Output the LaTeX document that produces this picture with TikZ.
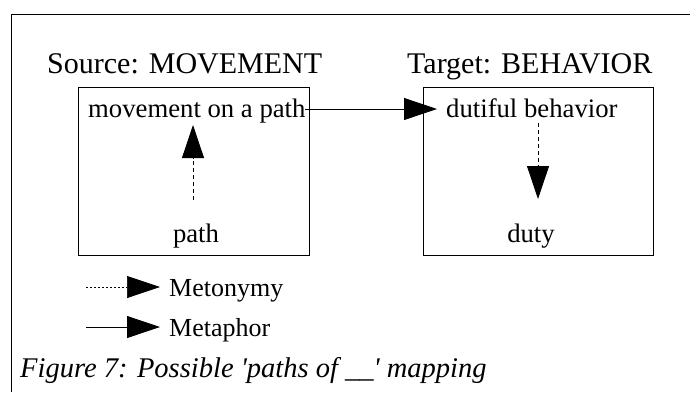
\documentclass[tikz,border=0pt]{standalone}
\usepackage{fontspec}
\setmainfont{Liberation Serif}
\usetikzlibrary{arrows.meta}
\tikzset{
  lbl/.style={inner sep=0pt, font=\fontsize{26.7}{30}\selectfont},
  ttl/.style={inner sep=0pt, font=\fontsize{30}{34}\selectfont},
  box/.style={draw, line width=0.9pt, inner sep=0pt},
  head/.style={-{Triangle[length=33pt,width=22pt]}},
  metaphor/.style={head, line width=0.8pt},
  metonymy/.style={head, line width=0.8pt, dash pattern=on 4pt off 3pt},
  legendmeto/.style={head, line width=0.7pt, dash pattern=on 2pt off 2pt},
}
\begin{document}
\begin{tikzpicture}[x=1pt,y=-1pt]
\useasboundingbox (0,0) rectangle (690,392);
% page frame (top and left rules)
\draw[line width=1pt] (11,392) -- (11,14) -- (690,14);

% titles
\node[ttl, anchor=base west] (srcT) at (47,73) {Source: MOVEMENT};
\node[ttl, anchor=base west] (tgtT) at (407,73) {Target: BEHAVIOR};

% domain boxes
\node[box, minimum width=231pt, minimum height=168pt] (src) at (193.5,171) {};
\node[box, minimum width=230pt, minimum height=168pt] (tgt) at (538,171) {};

% concepts
\node[lbl, anchor=base west] (mov) at (88,117) {movement on a path};
\node[lbl, anchor=base] (path) at (196,242) {path};
\node[lbl, anchor=base west] (dut) at (446,117) {dutiful behavior};
\node[lbl, anchor=base] (duty) at (531,242) {duty};

% connectors
\coordinate (m0) at (305,109);
\coordinate (m1) at (437,109);
\draw[metaphor] (m0) -- (m1);
\coordinate (p0) at (193,200);
\coordinate (p1) at (193,125);
\draw[metonymy] (p0) -- (p1);
\coordinate (d0) at (538,123);
\coordinate (d1) at (538,199);
\draw[metonymy] (d0) -- (d1);

% legend
\coordinate (l1a) at (86,287);
\coordinate (l1b) at (160,287);
\draw[legendmeto] (l1a) -- (l1b);
\node[lbl, font=\fontsize{26}{30}\selectfont, anchor=base west] (lmeto) at (169,296) {Metonymy};
\coordinate (l2a) at (86,327);
\coordinate (l2b) at (160,327);
\draw[metaphor] (l2a) -- (l2b);
\node[lbl, font=\fontsize{26}{30}\selectfont, anchor=base west] (lmeta) at (169,336) {Metaphor};

% caption
\node[lbl, anchor=base west, font=\fontsize{28.5}{32}\selectfont\itshape] (cap) at (20,377) {Figure 7: Possible \textquotesingle paths of \_\_\textquotesingle{} mapping};
\end{tikzpicture}
\end{document}
